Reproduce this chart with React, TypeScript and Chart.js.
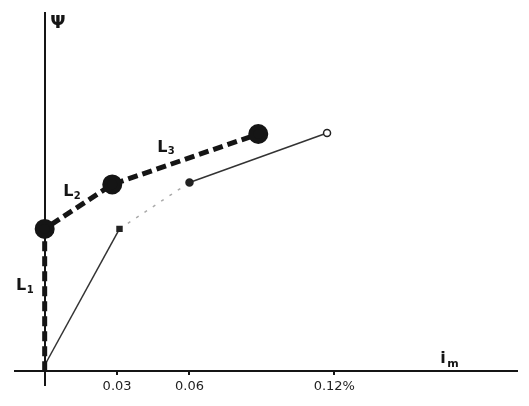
import React, { useEffect, useRef } from "react";
import { Chart, registerables } from "chart.js";

Chart.register(...registerables);

// Thick dashed path L1 -> L2 -> L3 (i_m, Ψ)
const thickX = [0, 0, 0.028, 0.0885];
const thickY = [0, 1.44, 1.89, 2.4];
// Thin comparison path
const thinX = [0, 0.031, 0.06, 0.117];
const thinY = [0.06, 1.44, 1.91, 2.41];
// x tick values and labels
const tickValues = [0.03, 0.06, 0.12];
const tickLabels = ["0.03", "0.06", "0.12%"];
// annotations
const noteText = ["Ψ", "L1", "L2", "L3"];
const noteX = [0.0055, -0.0085, 0.011, 0.05];
const noteY = [3.52, 0.86, 1.81, 2.26];

const INK = "#151515";

const textPlugin = {
  id: "notes",
  afterDatasetsDraw(chart: any) {
    const { ctx, scales } = chart;
    ctx.save();
    ctx.fillStyle = INK;
    ctx.textAlign = "center";
    ctx.textBaseline = "middle";
    noteText.forEach((t, i) => {
      const px = scales.x.getPixelForValue(noteX[i]);
      const py = scales.y.getPixelForValue(noteY[i]);
      if (t === "Ψ") {
        ctx.font = "bold 18px 'DejaVu Sans'";
        ctx.fillText(t, px, py);
      } else {
        ctx.font = "bold 16px 'DejaVu Sans'";
        ctx.fillText(t[0], px - 3, py);
        ctx.font = "bold 10px 'DejaVu Sans'";
        ctx.fillText(t[1], px + 6, py + 4);
      }
    });
    // axis label i_m
    const ix = scales.x.getPixelForValue(0.165);
    const iy = scales.y.getPixelForValue(0.12);
    ctx.font = "bold 16px 'DejaVu Sans'";
    ctx.fillText("i", ix, iy);
    ctx.font = "bold 11px 'DejaVu Sans'";
    ctx.fillText("m", ix + 10, iy + 5);
    ctx.restore();
  },
};

export default function App() {
  const ref = useRef<HTMLCanvasElement>(null);
  useEffect(() => {
    document.body.style.margin = "0";
    const chart = new Chart(ref.current!, {
      type: "line",
      data: {
        datasets: [
          {
            data: thickX.map((x, i) => ({ x, y: thickY[i] })),
            borderColor: INK,
            borderWidth: 5,
            borderDash: [10, 5],
            pointRadius: [0, 7.5, 7.5, 7.5],
            pointBackgroundColor: INK,
            pointBorderColor: INK,
            tension: 0,
          },
          {
            data: thinX.map((x, i) => ({ x, y: thinY[i] })),
            borderColor: "#333",
            borderWidth: 1.5,
            pointStyle: ["circle", "rect", "circle", "circle"],
            pointRadius: [0, 3.5, 3.5, 3.5],
            pointBackgroundColor: ["#222", "#222", "#222", "#fff"],
            pointBorderColor: "#222",
            pointBorderWidth: 1.5,
            segment: {
              borderDash: (c: any) => (c.p0DataIndex === 1 ? [3, 7] : undefined),
              borderColor: (c: any) => (c.p0DataIndex === 1 ? "#aaa" : undefined),
            },
            tension: 0,
          },
        ],
      },
      options: {
        animation: false,
        responsive: true,
        maintainAspectRatio: false,
        layout: { padding: { left: 15, right: 9, top: 6, bottom: 21 } },
        plugins: { legend: { display: false }, tooltip: { enabled: false } },
        scales: {
          x: {
            type: "linear",
            min: -0.0123,
            max: 0.1955,
            position: { y: 0 } as any,
            afterBuildTicks: (s: any) => {
              s.ticks = tickValues.map((v) => ({ value: v }));
            },
            grid: { display: true, drawOnChartArea: false, drawTicks: true, tickLength: 3, color: INK, lineWidth: 2 },
            border: { display: true, color: INK, width: 2 },
            ticks: {
              color: "#222",
              padding: 5,
              font: { family: "'DejaVu Sans'", size: 13 },
              callback: (v: any) => {
                const i = tickValues.findIndex((t) => Math.abs(t - v) < 1e-9);
                return i >= 0 ? tickLabels[i] : "";
              },
            },
          },
          y: {
            type: "linear",
            min: -0.14,
            max: 3.63,
            position: { x: 0 } as any,
            grid: { display: false },
            border: { display: true, color: INK, width: 2 },
            ticks: { display: false },
          },
        },
      },
      plugins: [textPlugin],
    });
    return () => chart.destroy();
  }, []);
  return (
    <div style={{ position: "absolute", left: 0, top: 0, width: 529, height: 406, background: "#fff" }}>
      <canvas ref={ref} />
    </div>
  );
}
